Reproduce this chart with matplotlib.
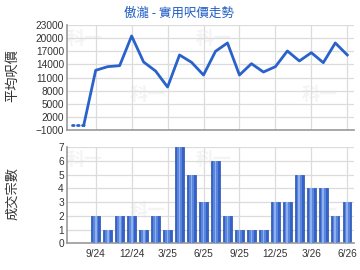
import matplotlib.pyplot as plt
import numpy as np

# monthly data, 7/24 .. 6/26
months = ['7/24', '8/24', '9/24', '10/24', '11/24', '12/24', '1/25', '2/25', '3/25',
          '4/25', '5/25', '6/25', '7/25', '8/25', '9/25', '10/25', '11/25', '12/25',
          '1/26', '2/26', '3/26', '4/26', '5/26', '6/26']
price = [0, 0, 12650, 13490, 13720, 20550, 14560, 12490, 8810, 16180, 14490, 11570,
         17020, 18940, 11570, 14180, 12260, 13490, 17100, 14800, 16710, 14410, 18940, 16180]
deals = [0, 0, 2, 1, 2, 2, 1, 2, 1, 7, 5, 3, 6, 2, 1, 1, 1, 3, 3, 5, 4, 4, 2, 3]
tick_labels = ['9/24', '12/24', '3/25', '6/25', '9/25', '12/25', '3/26', '6/26']
price_ticks = [-1000, 2000, 5000, 8000, 11000, 14000, 17000, 20000, 23000]

cjk = ['Noto Sans CJK TC', 'DejaVu Sans']
plt.rcParams['font.family'] = ['Liberation Sans', 'Noto Sans CJK TC', 'DejaVu Sans']

x = np.arange(len(months))
tick_pos = [months.index(m) for m in tick_labels]
xlim = (-0.42, 23.52)
grid_c = '#dcdcdc'
axis_c = '#999999'

fig = plt.figure(figsize=(3.6, 2.7), dpi=100)
fig.patch.set_facecolor('white')

def style(ax):
    for s in ['top', 'right']:
        ax.spines[s].set_visible(False)
    for s in ['left', 'bottom']:
        ax.spines[s].set_color(axis_c)
        ax.spines[s].set_linewidth(1.2)
    ax.grid(True, color=grid_c, linewidth=0.9)
    ax.set_axisbelow(True)
    ax.tick_params(length=0, labelsize=7.3, colors='#333333', pad=2)
    ax.set_xlim(*xlim)
    ax.set_xticks(tick_pos)
    # faint watermark
    for wx, wy in [(0.0, 0.82), (0.45, 0.82), (0.22, 0.28), (0.82, 0.28)]:
        ax.text(wx, wy, '科一', transform=ax.transAxes, fontsize=13, color='#f4f4f4',
                family=cjk, fontweight='bold', zorder=0)

# top: price trend
ax1 = fig.add_axes([66.7 / 360, 1 - 129.7 / 270, (353.5 - 66.7) / 360, 104.4 / 270])
style(ax1)
ax1.set_ylim(-1000, 23000)
ax1.set_yticks(price_ticks)
ax1.set_xticklabels([])
ax1.plot(x[:2], price[:2], color='#2a62cc', linewidth=2, linestyle=(0, (0.6, 1.2)),
         dash_capstyle='round')
ax1.plot(x[1:], price[1:], color='#2a62cc', linewidth=2)

# bottom: deals
ax2 = fig.add_axes([66.7 / 360, 1 - 243.3 / 270, (353.5 - 66.7) / 360, 96 / 270])
style(ax2)
ax2.set_ylim(0, 7)
ax2.set_yticks(range(8))
ax2.set_xticklabels(tick_labels)
ax2.tick_params(axis='x', pad=4)
ax2.bar(x, deals, width=0.7, color='#3562c8', edgecolor='#2a50a8', linewidth=0.5, zorder=2)
ax2.bar(x, deals, width=0.4, color='#5a86dc', linewidth=0, zorder=3)
ax2.bar(x, deals, width=0.15, color='#8fb0ec', linewidth=0, zorder=4)

fig.text(179 / 360, 1 - 13 / 270, '傲瀧 - 實用呎價走勢', family=cjk, fontsize=9,
         color='#1f5cc4', ha='center', va='center')
fig.text(13 / 360, 1 - 76 / 270, '平均呎價', family=cjk, fontsize=9.5, color='#333333',
         rotation=90, ha='center', va='center')
fig.text(13 / 360, 1 - 193 / 270, '成交宗數', family=cjk, fontsize=9.5, color='#333333',
         rotation=90, ha='center', va='center')

fig.savefig('out.png', dpi=100)
